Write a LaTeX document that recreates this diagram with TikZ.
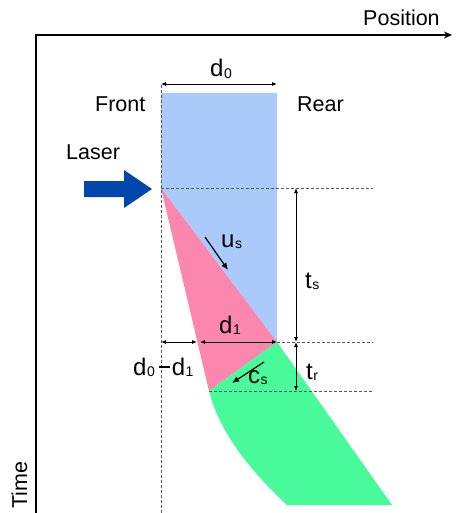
\documentclass[tikz,border=0pt]{standalone}
\usepackage{fontspec}
\setmainfont{Liberation Sans}
\usetikzlibrary{arrows.meta}
\definecolor{pblue}{HTML}{AACBFA}
\definecolor{ppink}{HTML}{FB87AE}
\definecolor{pgreen}{HTML}{48FA9A}
\definecolor{laser}{HTML}{0047AB}
\newcommand\mysub[1]{\kern0.5pt\raisebox{-1.5pt}{\fontsize{14}{14}\selectfont #1}}
\begin{document}
\begin{tikzpicture}[x=1pt,y=-1pt,
  lbl/.style={inner sep=0pt,font=\fontsize{21.5}{23}\selectfont},
  big/.style={inner sep=0pt,font=\fontsize{24}{26}\selectfont},
  guide/.style={dashed,dash pattern=on 3pt off 2pt,gray!70!black,line width=0.6pt},
  dim/.style={{Latex[length=5pt,width=4pt]}-{Latex[length=5pt,width=4pt]},line width=0.8pt},
  vel/.style={-{Latex[length=7pt,width=6pt]},line width=1.2pt}]
\useasboundingbox (0,0) rectangle (455,513);
% key points
\coordinate (A) at (161,188);
\coordinate (B) at (277,342);
\coordinate (C) at (209,391);
% fills
\fill[pblue] (161,93) -- (277,93) -- (B) -- (A) -- cycle;
\fill[ppink] (A) -- (B) -- (C) -- cycle;
\fill[pgreen] (B) -- (392,505) -- (287,505) .. controls (244,465) and (218,427) .. (C) -- cycle;
% guides
\draw[guide] (161,85) -- (161,513);
\draw[guide] (A) -- (373,188);
\draw[guide] (B) -- (373,342);
\draw[guide] (C) -- (373,391);
% axes
\coordinate (O) at (36,35);
\coordinate (Xend) at (452,35);
\coordinate (Yend) at (36,513);
\draw[line width=1.2pt,-{Stealth[length=8pt,width=7pt]}] (Yend) -- (O) -- (Xend);
\node[lbl,anchor=base west] (pos) at (363,26) {Position};
\node[lbl,rotate=90,anchor=base] (time) at (27,485) {Time};
% labels
\coordinate (d0l) at (161,84);
\coordinate (d0r) at (277,84);
\draw[dim] (d0l) -- (d0r);
\node[big,anchor=base west] (d0) at (210,77) {d\mysub{0}};
\node[lbl,anchor=base west] (front) at (95,112) {Front};
\node[lbl,anchor=base west] (rear) at (297,112) {Rear};
\node[lbl,anchor=base west] (las) at (66,160) {Laser};
\fill[laser] (84,181) -- (124,181) -- (124,170) -- (152,189) -- (124,208) -- (124,197) -- (84,197) -- cycle;
% time dims
\coordinate (ts1) at (296,188);
\coordinate (ts2) at (296,342);
\coordinate (tr2) at (296,391);
\draw[dim] (ts1) -- (ts2);
\draw[dim] (ts2) -- (tr2);
\node[big,anchor=base west] (ts) at (305,288) {t\mysub{s}};
\node[big,anchor=base west] (tr) at (306,379) {t\mysub{r}};
% width dims
\coordinate (w0) at (161,342);
\coordinate (w1) at (197,342);
\coordinate (w2) at (200,342);
\draw[dim] (w0) -- (w1);
\draw[dim] (w2) -- (B);
\node[big,anchor=base west] (d1) at (219,333) {d\mysub{1}};
\node[big,anchor=base west] (dd) at (133,375) {d\mysub{0}\kern4pt\raisebox{7.5pt}{\rule{11pt}{1.2pt}}\kern2pt d\mysub{1}};
% velocities
\coordinate (u1) at (205,237);
\coordinate (u2) at (228,270);
\draw[vel] (u1) -- (u2);
\node[big,anchor=base west] (us) at (221,247) {u\mysub{s}};
\coordinate (c1) at (264,362);
\coordinate (c2) at (232,383);
\draw[vel] (c1) -- (c2);
\node[big,anchor=base west] (cs) at (248,383) {c\mysub{s}};
\end{tikzpicture}
\end{document}
